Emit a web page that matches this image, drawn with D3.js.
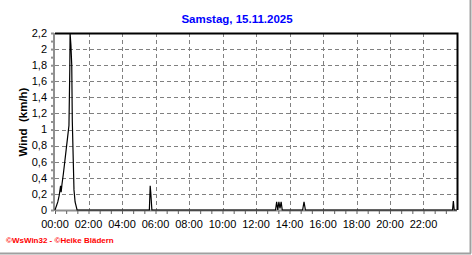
<!DOCTYPE html>
<html>
<head>
<meta charset="utf-8">
<script src="https://cdn.jsdelivr.net/npm/d3@7"></script>
<style>
  body { margin: 0; background: #fff; }
  text { font-family: "Liberation Sans", Arial, sans-serif; }
</style>
</head>
<body>
<script>
const title = "Samstag, 15.11.2025";
const yLabel = "Wind  (km/h)";
const footer = "\u00a9WsWin32 - \u00a9Heike Bl\u00e4dern";

// wind samples (time of day, km/h)
const times = ["00:00","00:05","00:10","00:15","00:20","00:22","00:25","00:30","00:35","00:40","00:45","00:50","00:53","00:54","00:57","01:00","01:02","01:08","01:12","01:19",
  "05:38","05:41","05:43","05:47",
  "13:10","13:14","13:18","13:22","13:26","13:30","13:34","13:38",
  "14:47","14:52","14:57",
  "23:44","23:47","23:50","23:59"];
const values = [0,0.05,0.1,0.18,0.3,0.22,0.32,0.45,0.6,0.75,0.9,1.05,1.75,2.2,2.05,1.8,1.1,0.25,0.1,0,
  0,0.3,0.22,0,
  0,0.1,0,0.1,0.02,0.1,0,0,
  0,0.1,0,
  0,0.11,0,0];

const yTicks = [0,0.2,0.4,0.6,0.8,1,1.2,1.4,1.6,1.8,2,2.2];
const xTicks = [0,2,4,6,8,10,12,14,16,18,20,22];

const W = 472, H = 255;
const mLeft = 55, mRight = 457, mTop = 33, mBottom = 210;

const hours = t => { const p = t.split(":"); return +p[0] + p[1] / 60; };
const data = times.map((t, i) => ({h: hours(t), v: values[i]}));

const x = d3.scaleLinear().domain([0, 24]).range([mLeft, mRight]);
const y = d3.scaleLinear().domain([0, 2.2]).range([mBottom, mTop]);

const svg = d3.select("body").append("svg").attr("width", W).attr("height", H);
svg.append("rect").attr("width", W).attr("height", H).attr("fill", "#fff");

// outer frame (right/bottom)
svg.append("line").attr("x1", 470.5).attr("x2", 470.5).attr("y1", 0).attr("y2", 253.5)
  .attr("stroke", "#a0a0a0").attr("stroke-width", 2);
svg.append("line").attr("x1", 0).attr("x2", 471).attr("y1", 253.5).attr("y2", 253.5)
  .attr("stroke", "#a0a0a0").attr("stroke-width", 2);

// grid
const grid = svg.append("g").attr("stroke", "#808080").attr("stroke-dasharray", "4,3").attr("shape-rendering", "crispEdges");
grid.selectAll(".gy").data(yTicks.filter(d => d > 0 && d < 2.2)).enter().append("line")
  .attr("x1", mLeft).attr("x2", mRight).attr("y1", d => Math.round(y(d)) + 0.5).attr("y2", d => Math.round(y(d)) + 0.5);
grid.selectAll(".gx").data(xTicks.filter(d => d > 0)).enter().append("line")
  .attr("y1", mTop).attr("y2", mBottom).attr("x1", d => Math.round(x(d)) + 0.5).attr("x2", d => Math.round(x(d)) + 0.5);

// y axis
const yAxis = svg.append("g").attr("transform", `translate(${mLeft - 1},0)`)
  .call(d3.axisLeft(y).tickValues(d3.range(0, 2.21, 0.1)).tickSize(3).tickFormat(""));
yAxis.select(".domain").remove();
yAxis.selectAll("line").attr("stroke", "#909090").attr("stroke-width", 2);
svg.append("line").attr("x1", mLeft - 1).attr("x2", mLeft - 1).attr("y1", mTop).attr("y2", mBottom + 1)
  .attr("stroke", "#909090").attr("stroke-width", 2);
svg.append("g").selectAll("text").data(yTicks).enter().append("text")
  .attr("x", 47).attr("y", d => y(d)).attr("dy", "0.35em").attr("text-anchor", "end")
  .attr("font-size", 11).attr("fill", "#000")
  .text(d => d3.format(".1~f")(d).replace(".", ","));

// x axis
svg.append("line").attr("x1", mLeft).attr("x2", mRight).attr("y1", mBottom + 0.5).attr("y2", mBottom + 0.5)
  .attr("stroke", "#909090").attr("stroke-width", 2);
const xAxis = svg.append("g").attr("transform", `translate(0,${mBottom + 1})`)
  .call(d3.axisBottom(x).tickValues(d3.range(0, 24, 2 / 3)).tickSize(3).tickFormat(""));
xAxis.select(".domain").remove();
xAxis.selectAll("line").attr("stroke", "#606060");
svg.append("g").selectAll("text").data(xTicks).enter().append("text")
  .attr("x", d => x(d)).attr("y", 228).attr("text-anchor", "middle")
  .attr("font-size", 11).attr("fill", "#000")
  .text(d => d3.format("02")(d) + ":00");

// top / right border
svg.append("path").attr("d", `M${mLeft},${mTop + 0.5}H${mRight + 0.5}V${mBottom}`)
  .attr("fill", "none").attr("stroke", "#000").attr("stroke-width", 2);

// data line
svg.append("path").datum(data)
  .attr("fill", "none").attr("stroke", "#000").attr("stroke-width", 1.2)
  .attr("d", d3.line().x(d => x(d.h)).y(d => y(d.v)));

// texts
svg.append("text").attr("x", 237).attr("y", 23).attr("text-anchor", "middle")
  .attr("font-size", 11.5).attr("font-weight", "bold").attr("fill", "#0000ff").text(title);
svg.append("text").attr("transform", "translate(27,122) rotate(-90)").attr("text-anchor", "middle")
  .attr("font-size", 11.5).attr("font-weight", "bold").attr("fill", "#000")
  .attr("xml:space", "preserve").style("white-space", "pre").text(yLabel);
svg.append("text").attr("x", 6).attr("y", 243)
  .attr("font-size", 8).attr("font-weight", "bold").attr("fill", "#ff0000").text(footer);
</script>
</body>
</html>
